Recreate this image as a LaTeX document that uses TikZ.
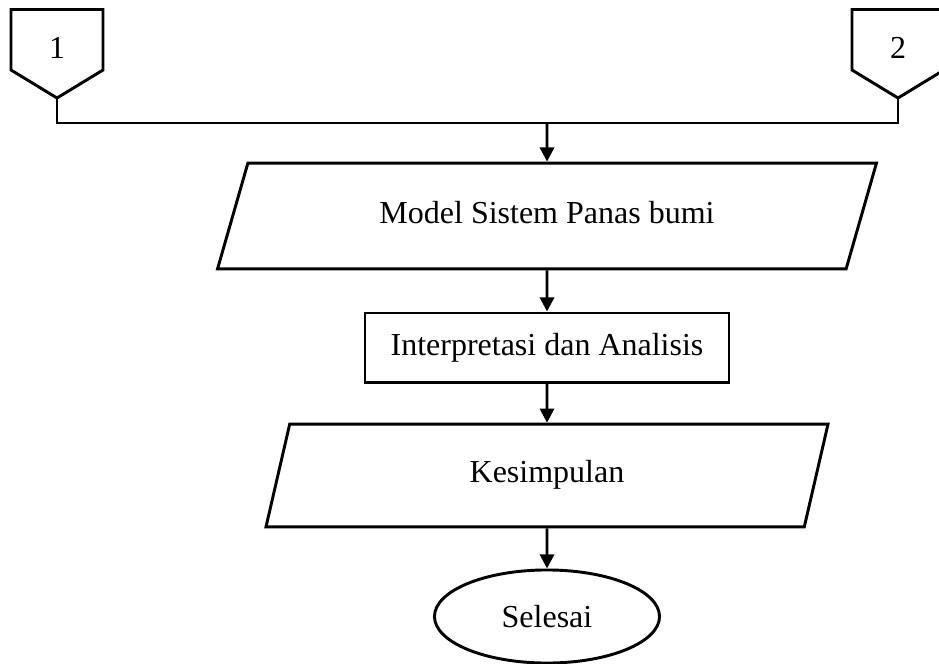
\documentclass[tikz,border=0pt]{standalone}
\usepackage{fontspec}
\setmainfont{Liberation Serif}
\usepackage{xcolor}
\usepackage{tikz}
\usetikzlibrary{shapes.geometric,arrows.meta}
\definecolor{ink}{HTML}{000000}
\definecolor{paper}{HTML}{FFFFFF}
\tikzset{
  base/.style={draw=ink, line width=1.1pt, line join=miter},
  flow/.style={draw=ink, line width=1.1pt, -{Triangle[length=5.3pt,width=5.3pt]}},
  lab/.style={text=ink, font=\fontsize{12pt}{14pt}\selectfont},
  io/.style={base, lab, trapezium, trapezium stretches body=true, inner xsep=0pt,
    text height=8pt, text depth=2.5pt},
  proc/.style={base, lab, rectangle, inner sep=0pt},
  stop/.style={base, lab, ellipse, inner sep=0pt},
}

\begin{document}
\begin{tikzpicture}[x=0.375pt, y=-0.375pt]
  \fill[paper] (0,0) rectangle (939,664);
  \useasboundingbox (0,0) rectangle (939,664);
  % off-page connectors
  \draw[base] (11,9.5) -- (103,9.5) -- (103,70) -- (57,98) -- (11,70) -- cycle;
  \draw[base] (852,9.5) -- (944,9.5) -- (944,70) -- (898,98) -- (852,70) -- cycle;
  \node[lab] (labA) at (57,48) {1};
  \node[lab] (labB) at (898,48) {2};
  \coordinate (tipA) at (57,98);
  \coordinate (tipB) at (898,98);
  \coordinate (joinA) at (57,123);
  \coordinate (joinB) at (898,123);
  \coordinate (bus) at (547,123);
  % flow
  \node[io, trapezium left angle=74, trapezium right angle=106, inner ysep=14.6pt,
        minimum width=247.1pt] (model) at (547,216) {Model Sistem Panas bumi};
  \node[proc, minimum width=136.5pt, minimum height=25.9pt] (interp) at (547,347.5) {Interpretasi dan Analisis};
  \node[io, trapezium left angle=77, trapezium right angle=103, inner ysep=14pt,
        minimum width=210.75pt] (concl) at (547,475.5) {Kesimpulan};
  \node[stop, minimum width=84.4pt, minimum height=34.9pt] (done) at (547,616.5) {Selesai};
  \draw[base] (tipA) -- (joinA) -- (joinB) -- (tipB);
  \draw[flow] (bus) -- (model.north);
  \draw[flow] (model.south) -- (interp.north);
  \draw[flow] (interp.south) -- (concl.north);
  \draw[flow] (concl.south) -- (done.north);
\end{tikzpicture}
\end{document}
